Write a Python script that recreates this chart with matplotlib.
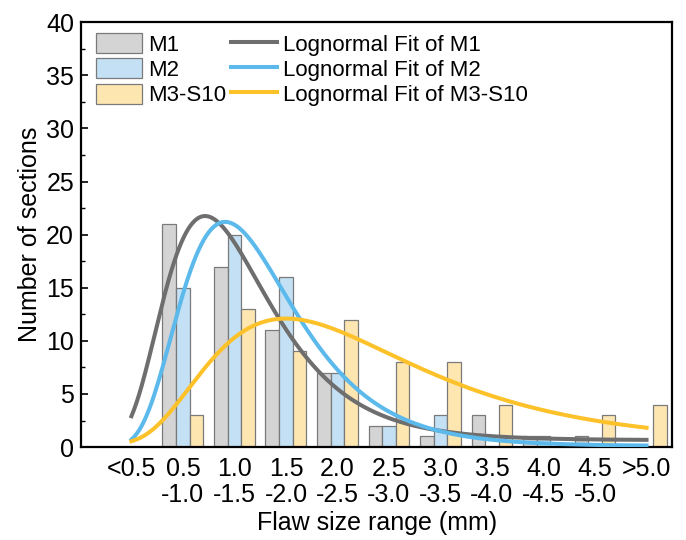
import numpy as np
import matplotlib.pyplot as plt
from matplotlib.ticker import MultipleLocator

plt.rcParams['font.family'] = ['Liberation Sans', 'DejaVu Sans']

# Flaw size bins and counts
categories = ['<0.5', '0.5\n-1.0', '1.0\n-1.5', '1.5\n-2.0', '2.0\n-2.5', '2.5\n-3.0',
              '3.0\n-3.5', '3.5\n-4.0', '4.0\n-4.5', '4.5\n-5.0', '>5.0']
m1 = [0, 21, 17, 11, 7, 2, 1, 3, 1, 1, 0]
m2 = [0, 15, 20, 16, 7, 2, 3, 0, 1, 0, 0]
m3 = [0, 3, 13, 9, 12, 8, 8, 4, 0, 3, 4]
series_names = ['M1', 'M2', 'M3-S10']

# Lognormal fit parameters (bin index + 1 as x): mode, sigma, peak height, offset
fit_mode = [2.43, 2.82, 4.0]
fit_sigma = [0.42, 0.39, 0.5]
fit_peak = [21.1, 21.1, 11.8]
fit_base = [0.65, 0.1, 0.3]

bar_colors = ['#d4d4d4', '#c4e0f4', '#fee6b0']
line_colors = ['#6e6e6e', '#5cb9ec', '#fdc12a']


def lognormal(x, mode, sigma, peak, base):
    mu = np.log(mode) + sigma ** 2
    g = (mode / x) * np.exp(-((np.log(x) - mu) ** 2 - sigma ** 4) / (2 * sigma ** 2))
    return base + peak * g


fig = plt.figure(figsize=(6.86, 5.4), dpi=100)
ax = fig.add_axes([0.118, 0.172, 0.862, 0.787])

idx = np.arange(len(categories))
w = 0.265
bars = []
for k, vals in enumerate([m1, m2, m3]):
    b = ax.bar(idx + (k - 1) * w, vals, width=w, color=bar_colors[k],
               edgecolor='#7a7a7a', linewidth=0.9, zorder=2, label=series_names[k])
    bars.append(b)

xs = np.linspace(0, len(categories) - 1, 400)
lines = []
for k in range(3):
    ys = lognormal(xs + 1, fit_mode[k], fit_sigma[k], fit_peak[k], fit_base[k])
    ln, = ax.plot(xs, ys, color=line_colors[k], lw=2.9, zorder=3,
                  label='Lognormal Fit of ' + series_names[k])
    lines.append(ln)

ax.set_xlim(-0.98, 10.5)
ax.set_ylim(0, 40)
ax.set_xticks(idx)
ax.set_xticklabels(categories, fontsize=18, linespacing=1.1)
ax.tick_params(axis='x', length=0, pad=7)
ax.yaxis.set_major_locator(MultipleLocator(5))
ax.yaxis.set_minor_locator(MultipleLocator(2.5))
ax.tick_params(axis='y', which='major', direction='in', length=5, width=1.2,
               labelsize=18, pad=5)
ax.tick_params(axis='y', which='minor', direction='in', length=3, width=1.0)
for s in ax.spines.values():
    s.set_linewidth(1.6)

ax.set_xlabel('Flaw size range (mm)', fontsize=18, labelpad=3)
ax.set_ylabel('Number of sections', fontsize=18, labelpad=3)

leg = ax.legend(handles=bars + lines, ncol=2, loc='upper left', frameon=False,
                fontsize=16, handlelength=2.05, handleheight=1.0,
                handletextpad=0.3, columnspacing=0.2, labelspacing=0.12,
                borderaxespad=0.1, bbox_to_anchor=(0.007, 1.0))

fig.savefig('out.png', dpi=100)
